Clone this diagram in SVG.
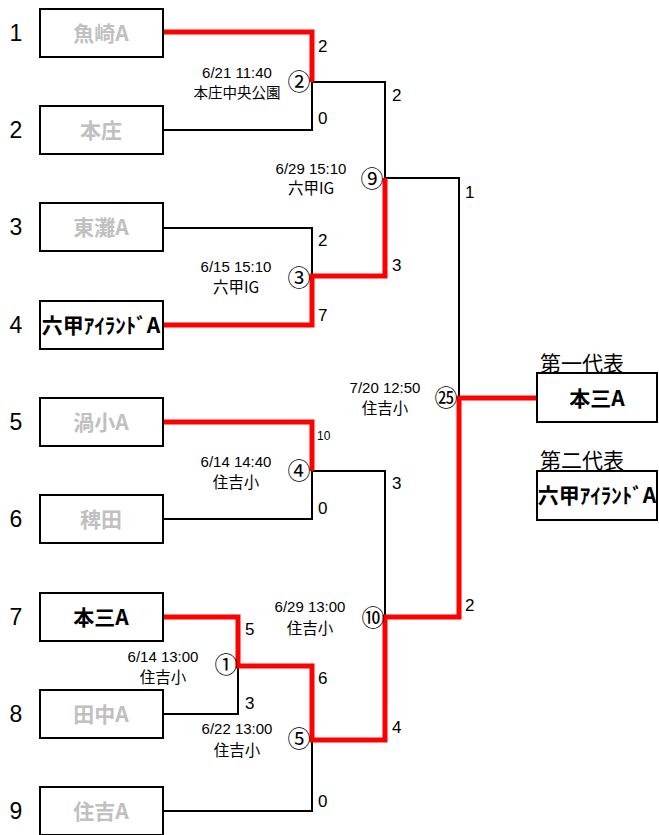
<svg xmlns="http://www.w3.org/2000/svg" width="659" height="835" viewBox="0 0 659 835">
<style>
.box{fill:#fff;stroke:#000;stroke-width:2}
.seed{font-family:"Liberation Sans","Noto Sans CJK JP",sans-serif;font-size:23px;fill:#000;text-anchor:middle}
.team{font-family:"Noto Sans CJK JP",sans-serif;font-weight:bold;font-size:21px;text-anchor:middle;fill:#c0c0c0}
.win{fill:#000}
.sc{font-family:"Liberation Sans","Noto Sans CJK JP",sans-serif;font-size:17px;fill:#000}
.dt{font-family:"Liberation Sans","Noto Sans CJK JP",sans-serif;font-size:15px;fill:#000;text-anchor:middle}
.vn{font-family:"Noto Sans CJK JP",sans-serif;font-size:15.5px;fill:#000;text-anchor:middle}
.cn{font-family:"Noto Sans CJK JP",sans-serif;font-size:23px;fill:#000;text-anchor:middle}
.rep{font-family:"Noto Sans CJK JP",sans-serif;font-size:21px;fill:#000}
.bl{fill:none;stroke:#000;stroke-width:2}
.rd{fill:none;stroke:#ff0000;stroke-width:5}
</style>
<g id="connectors">
<polyline class="bl" points="163,130 312,130 312,82"/>
<polyline class="bl" points="312,82 385,82 385,178"/>
<polyline class="bl" points="163,228 312,228 312,276"/>
<polyline class="bl" points="385,178 459,178 459,398"/>
<polyline class="bl" points="163,519 312,519 312,471"/>
<polyline class="bl" points="312,471 385,471 385,617"/>
<polyline class="bl" points="163,714 238,714 238,666"/>
<polyline class="bl" points="163,811 312,811 312,740"/>
<polyline class="rd" points="163,32 312,32 312,82"/>
<polyline class="rd" points="163,325 312,325 312,276 385,276 385,178"/>
<polyline class="rd" points="163,422 312,422 312,471"/>
<polyline class="rd" points="163,617 238,617 238,666 312,666 312,740 385,740 385,617 459,617 459,398 537,398"/>
</g>
<g id="team1"><text class="seed" x="16" y="41">1</text><rect class="box" x="40" y="9" width="123" height="48"/><text class="team" x="101" y="41">魚崎A</text></g>
<g id="team2"><text class="seed" x="16" y="138">2</text><rect class="box" x="40" y="106" width="123" height="48"/><text class="team" x="101" y="138">本庄</text></g>
<g id="team3"><text class="seed" x="16" y="235">3</text><rect class="box" x="40" y="203" width="123" height="48"/><text class="team" x="101" y="235">東灘A</text></g>
<g id="team4"><text class="seed" x="16" y="333">4</text><rect class="box" x="40" y="301" width="123" height="48"/><text class="team win" x="101" y="333">六甲ｱｲﾗﾝﾄﾞA</text></g>
<g id="team5"><text class="seed" x="16" y="430">5</text><rect class="box" x="40" y="398" width="123" height="48"/><text class="team" x="101" y="430">渦小A</text></g>
<g id="team6"><text class="seed" x="16" y="527">6</text><rect class="box" x="40" y="495" width="123" height="48"/><text class="team" x="101" y="527">稗田</text></g>
<g id="team7"><text class="seed" x="16" y="625">7</text><rect class="box" x="40" y="593" width="123" height="48"/><text class="team win" x="101" y="625">本三A</text></g>
<g id="team8"><text class="seed" x="16" y="722">8</text><rect class="box" x="40" y="690" width="123" height="48"/><text class="team" x="101" y="722">田中A</text></g>
<g id="team9"><text class="seed" x="16" y="819">9</text><rect class="box" x="40" y="787" width="123" height="48"/><text class="team" x="101" y="819">住吉A</text></g>
<g id="match2"><text class="dt" x="237" y="78">6/21 11:40</text><text class="vn" x="237" y="98" style="font-size:14.5px">本庄中央公園</text><text class="cn" x="299" y="90">②</text><text class="sc" x="318" y="52">2</text><text class="sc" x="318" y="124">0</text></g>
<g id="match9"><text class="dt" x="311" y="174">6/29 15:10</text><text class="vn" x="311" y="194">六甲IG</text><text class="cn" x="372" y="187">⑨</text><text class="sc" x="392" y="101">2</text><text class="sc" x="392" y="271">3</text></g>
<g id="match3"><text class="dt" x="236" y="272">6/15 15:10</text><text class="vn" x="236" y="293">六甲IG</text><text class="cn" x="299" y="286">③</text><text class="sc" x="318" y="246">2</text><text class="sc" x="318" y="321">7</text></g>
<g id="match25"><text class="dt" x="385" y="393">7/20 12:50</text><text class="vn" x="385" y="414">住吉小</text><text class="cn" x="446" y="406">㉕</text><text class="sc" x="465" y="198">1</text><text class="sc" x="465" y="611">2</text></g>
<g id="match4"><text class="dt" x="236" y="467">6/14 14:40</text><text class="vn" x="236" y="488">住吉小</text><text class="cn" x="299" y="479">④</text><text class="sc" x="317" y="440" style="font-size:12px">10</text><text class="sc" x="318" y="514">0</text></g>
<g id="match10"><text class="dt" x="310" y="612">6/29 13:00</text><text class="vn" x="310" y="634">住吉小</text><text class="cn" x="373" y="626">⑩</text><text class="sc" x="392" y="489">3</text><text class="sc" x="392" y="733">4</text></g>
<g id="match1"><text class="dt" x="163" y="662">6/14 13:00</text><text class="vn" x="163" y="683">住吉小</text><text class="cn" x="226" y="673">①</text><text class="sc" x="245" y="635">5</text><text class="sc" x="245" y="709">3</text></g>
<g id="match5"><text class="dt" x="237" y="734">6/22 13:00</text><text class="vn" x="237" y="756">住吉小</text><text class="cn" x="299" y="747">⑤</text><text class="sc" x="318" y="684">6</text><text class="sc" x="318" y="807">0</text></g>
<g id="rep1"><text class="rep" x="540" y="371">第一代表</text><rect class="box" x="537" y="373" width="120" height="49"/><text class="team win" x="597" y="406">本三A</text></g>
<g id="rep2"><text class="rep" x="540" y="468">第二代表</text><rect class="box" x="537" y="471" width="120" height="49"/><text class="team win" x="597" y="503">六甲ｱｲﾗﾝﾄﾞA</text></g>
</svg>
